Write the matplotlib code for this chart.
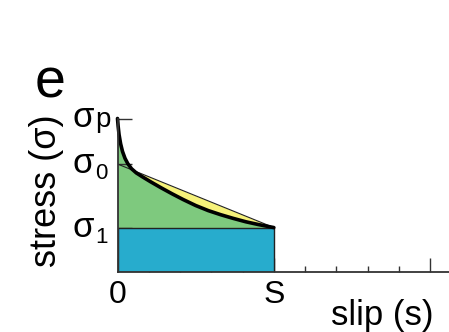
import matplotlib
matplotlib.use("Agg")
import matplotlib.pyplot as plt
from matplotlib.patches import Rectangle
import numpy as np

plt.rcParams['font.family'] = ['Liberation Sans', 'DejaVu Sans']

# ---- data ----
sigma_p = 1.0
sigma_0 = 0.703
sigma_1 = 0.288
S = 5.0
curve_x = [0, 0.02, 0.05, 0.1, 0.16, 0.24, 0.33, 0.45, 0.6, 0.8, 1.05, 1.4,
           1.75, 2.1, 2.5, 2.9, 3.3, 3.7, 4.1, 4.5, 4.8, 5.0]
curve_y = [1.0, 0.95, 0.895, 0.835, 0.785, 0.74, 0.705, 0.672, 0.645, 0.619,
           0.588, 0.547, 0.508, 0.471, 0.432, 0.399, 0.372, 0.348, 0.326,
           0.308, 0.296, 0.288]
minor_ticks = [1, 2, 3, 4, 6, 7, 8, 9]
major_ticks = [0, 5, 10]
major_labels = ["0", "S", ""]

blue = "#27ACCD"
green = "#7EC97E"
yellow = "#F6F27A"
dark = "#222222"

fig = plt.figure(figsize=(4.49, 3.32), dpi=100)
ax = fig.add_axes([117.5 / 449, 60.3 / 332, 1 - 117.5 / 449, 153.2 / 332])
ax.set_xlim(0, 10.6)
ax.set_ylim(0, 1.0)

cx = np.array(curve_x)
cy = np.array(curve_y)
line_y = sigma_0 + (sigma_1 - sigma_0) * cx / S

# green: under the curve down to sigma_1
ax.fill_between(cx, sigma_1, cy, color=green, lw=0, zorder=1, clip_on=False)
# yellow: between straight line and curve where line above
ax.fill_between(cx, cy, line_y, where=line_y >= cy, interpolate=True,
                color=yellow, lw=0, zorder=1.5)
# blue rectangle
ax.add_patch(Rectangle((0, 0), S, sigma_1, facecolor=blue, edgecolor=dark,
                       lw=1.0, zorder=2))
# straight line
ax.plot([0, S], [sigma_0, sigma_1], color=dark, lw=0.8, zorder=3)
# curve
ax.plot(cx, cy, color="black", lw=2.6, zorder=4, clip_on=False,
        solid_capstyle="round", solid_joinstyle="round")

# spines
for s in ["top", "right"]:
    ax.spines[s].set_visible(False)
for s in ["left", "bottom"]:
    ax.spines[s].set_color("#333333")
    ax.spines[s].set_linewidth(1.3)
    ax.spines[s].set_zorder(5)

ax.set_xticks(major_ticks)
ax.set_xticklabels(major_labels, fontsize=23)
ax.set_xticks(minor_ticks, minor=True)
ax.tick_params(axis="x", which="major", direction="in", length=10, width=1.0,
               color="#333333", pad=6)
ax.tick_params(axis="x", which="minor", direction="in", length=4, width=1.0,
               color="#333333")

ax.set_yticks([sigma_1, sigma_0, sigma_p])
ax.set_yticklabels(["", "", ""])
ax.tick_params(axis="y", direction="in", length=10, width=1.0,
               color="#333333")

# y tick labels drawn as two parts
tr = ax.get_yaxis_transform()
ax.annotate("σ", xy=(0, sigma_p), xycoords=tr, xytext=(-32.5, -6.3),
            textcoords="offset points", fontsize=25, ha="left", va="baseline")
ax.annotate("p", xy=(0, sigma_p), xycoords=tr, xytext=(-16.0, -6.3),
            textcoords="offset points", fontsize=20, ha="left", va="baseline")
for val, sub in [(sigma_0, "0"), (sigma_1, "1")]:
    ax.annotate("σ", xy=(0, val), xycoords=tr, xytext=(-32.5, -6.8),
                textcoords="offset points", fontsize=25, ha="left",
                va="baseline")
    ax.annotate(sub, xy=(0, val), xycoords=tr, xytext=(-7.2, -11.0),
                textcoords="offset points", fontsize=16, ha="right",
                va="baseline")

fig.text(50.5 / 449, 1 - 98 / 332, "e", fontsize=40, ha="center",
         va="baseline")
fig.text(47 / 449, 1 - 191 / 332, "stress (σ)", fontsize=26, rotation=90,
         ha="center", va="center")
fig.text(382 / 449, 1 - 315 / 332, "slip (s)", fontsize=25, ha="center",
         va="center")

fig.savefig("out.png", dpi=100)
